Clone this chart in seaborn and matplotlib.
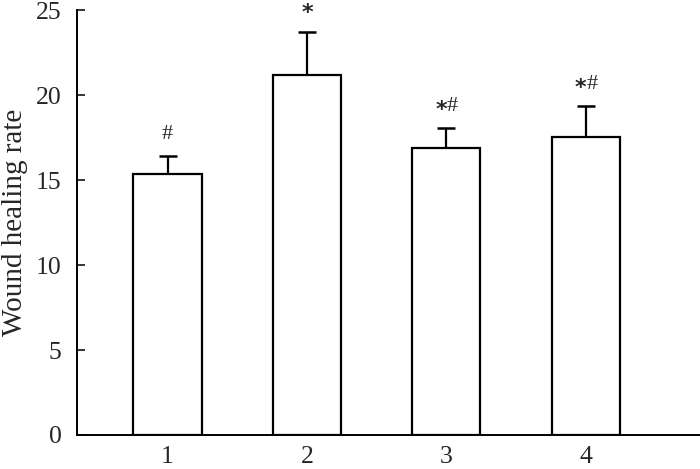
import matplotlib
matplotlib.use("Agg")
import matplotlib.pyplot as plt
import seaborn as sns
import pandas as pd

groups = ["1", "2", "3", "4"]
means = [15.35, 21.16, 16.88, 17.51]
errs = [1.06, 2.56, 1.16, 1.84]
marks_star = ["", "*", "*", "*"]
marks_hash = ["#", "", "#", "#"]
yticks = [0, 5, 10, 15, 20, 25]

sns.set_theme(style="ticks")
plt.rcParams["font.family"] = ["Liberation Serif", "DejaVu Serif"]

df = pd.DataFrame({"group": groups, "rate": means})

fig = plt.figure(figsize=(7, 4.69), dpi=100)
ax = fig.add_axes([0.11, 0.0725, 0.89, 0.906])

sns.barplot(data=df, x="group", y="rate", order=groups, color="white",
            edgecolor="black", linewidth=1.6, width=0.49, errorbar=None, ax=ax)
for p in ax.patches:
    p.set_facecolor("white")

xs = list(range(len(groups)))
eb = ax.errorbar(xs, means, yerr=[[0] * len(errs), errs], fmt="none",
                 ecolor="black", elinewidth=1.6, capsize=6.8, capthick=1.8, zorder=3)
caplines = eb[1]
if len(caplines) == 2:
    caplines[0].set_visible(False)

star_kw = dict(textcoords="offset points", va="center", fontsize=16,
               fontweight="bold", family=["DejaVu Sans"])
hash_kw = dict(textcoords="offset points", va="center", fontsize=16)
for x, m, e, s, h in zip(xs, means, errs, marks_star, marks_hash):
    top = m + e
    if s and h:
        ax.annotate(s, (x, top), xytext=(0.5, 13), ha="right", **star_kw)
        ax.annotate(h, (x, top), xytext=(0.5, 15.5), ha="left", **hash_kw)
    elif s:
        ax.annotate(s, (x, top), xytext=(0, 13.5), ha="center", **star_kw)
    elif h:
        ax.annotate(h, (x, top), xytext=(0, 15.5), ha="center", **hash_kw)

ax.set_ylim(0, 25)
ax.set_xlim(-0.65, 3.82)
ax.set_yticks(yticks)
ax.set_yticklabels([str(t) for t in yticks])
ax.set_xlabel("")
ax.set_ylabel("Wound healing rate", fontsize=21, labelpad=6)
ax.tick_params(axis="y", direction="in", length=6, width=1.3, labelsize=18.5, pad=11)
ax.tick_params(axis="x", length=0, labelsize=18.5, pad=8)
sns.despine(ax=ax)
for sp in ["left", "bottom"]:
    ax.spines[sp].set_linewidth(1.4)
    ax.spines[sp].set_color("black")

fig.savefig("out.png", dpi=100)
